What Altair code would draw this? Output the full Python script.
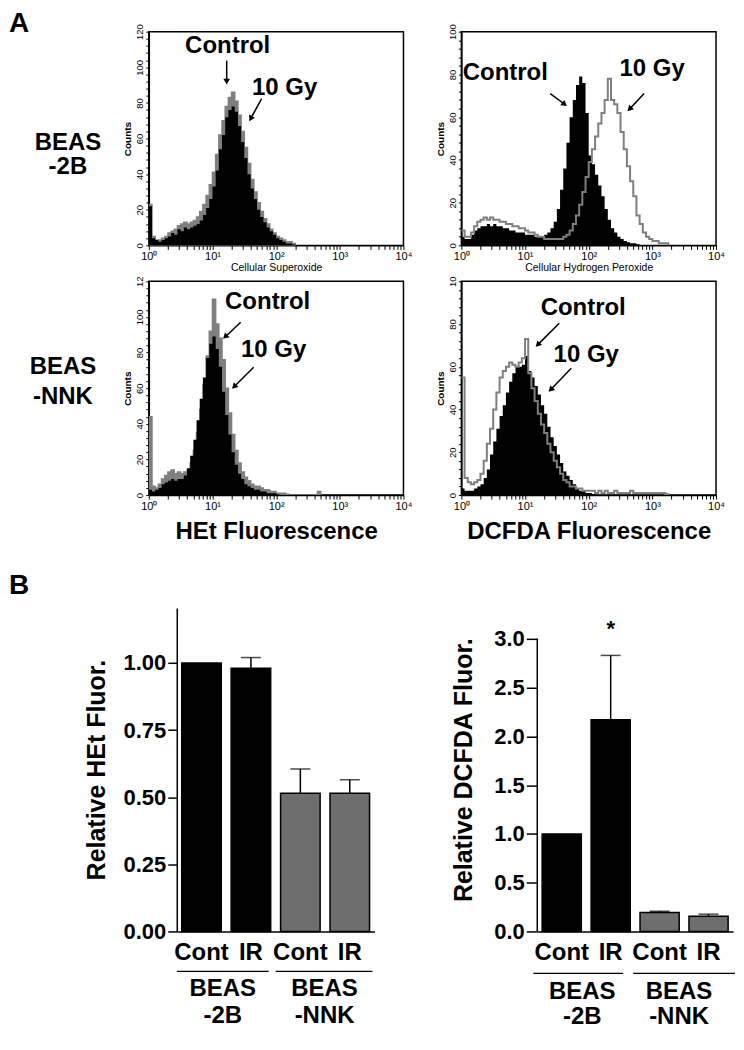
import math
import altair as alt
import pandas as pd

FONT = "Liberation Sans"
BIN = 0.05  # channel width, in decades, starting at 10^0

# ---------------- Panel A: flow-cytometry histograms (counts per channel) ----------------
sup_2b_control = [22, 4, 3, 2, 3, 4, 5, 7, 6, 9, 8, 10, 9, 10, 11, 12, 14, 17, 21, 26,
                  33, 42, 54, 62, 72, 76, 78, 75, 67, 58, 49, 40, 32, 26, 20, 16, 13, 10, 8, 6,
                  4, 3, 2, 1, 1, 0.5, 0]
sup_2b_10gy = [23, 5, 3, 3, 4, 5, 7, 8, 9, 11, 12, 13, 12, 13, 14, 16, 19, 23, 28, 34,
               41, 51, 62, 70, 78, 83, 86, 81, 73, 64, 55, 46, 37, 30, 24, 19, 15, 12, 9, 7,
               5, 4, 3, 2, 2, 1, 0]
h2o2_2b_control = [4, 3, 3, 5, 7, 8, 9, 9, 10, 9, 10, 9, 9, 8, 8, 7, 7, 6, 6, 6,
                   5, 5, 5, 4, 4, 4, 5, 6, 8, 11, 17, 26, 36, 48, 60, 68, 75, 79, 76, 62,
                   42, 38, 33, 28, 23, 17, 12, 8, 6, 4, 3, 2, 1.5, 1, 1, 0.5, 0]
h2o2_2b_10gy = [7, 4, 4, 6, 9, 11, 12, 13, 12, 13, 12, 12, 11, 11, 10, 10, 9, 9, 8, 8,
                7, 6, 6, 5, 4, 4, 3, 3, 3, 3, 3, 3, 4, 5, 7, 10, 14, 19, 25, 32,
                39, 45, 51, 57, 62, 68, 78, 68, 66, 62, 53, 45, 37, 30, 23, 14, 10, 6, 4, 3,
                2, 2, 1, 1, 1, 0]
het_nnk_control = [3, 2, 3, 4, 6, 7, 8, 9, 8, 9, 9, 11, 15, 22, 31, 42, 54, 66, 77, 85,
                   89, 82, 72, 58, 45, 34, 24, 17, 12, 9, 6, 5, 4, 3, 3, 2, 2, 1, 1, 1,
                   0.5, 0]
het_nnk_10gy = [44, 5, 4, 6, 9, 11, 13, 14, 12, 13, 12, 13, 14, 18, 25, 35, 48, 62, 78, 92,
                110, 96, 88, 76, 60, 46, 34, 25, 18, 13, 10, 8, 6, 5, 5, 4, 3, 3, 2, 2,
                1, 1, 1, 0.5, 0, 0, 0, 0, 0, 0, 0, 0, 0, 2, 0]
dcf_nnk_control = [3, 2, 2, 2, 3, 4, 5, 8, 12, 19, 25, 31, 37, 42, 48, 53, 57, 60, 60, 61,
                   65, 58, 55, 51, 47, 42, 38, 32, 27, 23, 19, 15, 11, 9, 7, 5, 3, 2, 2, 1,
                   1, 0.5, 0]
dcf_nnk_10gy = [55, 8, 6, 5, 6, 7, 10, 16, 24, 31, 40, 48, 55, 58, 60, 62, 61, 60, 62, 64,
                73, 57, 50, 44, 38, 33, 29, 24, 20, 16, 13, 10, 7, 6, 4, 4, 3, 3, 2, 2,
                2, 2, 1, 2, 1, 2, 1, 1, 2, 1, 1, 1, 1, 2, 1, 1, 1, 1, 1, 1,
                1, 1, 1, 1, 0.5, 0]

x_decades = [0, 1, 2, 3, 4]
x_decade_labels = ["10⁰", "10¹", "10²", "10³", "10⁴"]

# ---------------- Panel B: bar charts ----------------
bar_cats = ["BEAS-2B Cont", "BEAS-2B IR", "BEAS-NNK Cont", "BEAS-NNK IR"]
bar_cell = ["BEAS-2B", "BEAS-2B", "BEAS-NNK", "BEAS-NNK"]
het_mean = [1.00, 0.98, 0.515, 0.515]
het_err = [0.0, 0.04, 0.09, 0.05]
dcf_mean = [1.00, 2.17, 0.195, 0.155]
dcf_err = [0.0, 0.66, 0.012, 0.022]
dcf_sig = ["", "*", "", ""]
het_sig = ["", "", "", ""]

# ---------------------------------------------------------------------------
dummy = pd.DataFrame({"v": [0]})
GRAY = "#7f7f7f"
HIST_W, HIST_H = 255, 214


def hist_frame(control, irr):
    n = max(len(control), len(irr))
    rows = []
    for i in range(n):
        L = round(i * BIN, 2)
        rows.append({"L": L, "series": "Control", "count": control[i] if i < len(control) else 0})
        rows.append({"L": L, "series": "10 Gy", "count": irr[i] if i < len(irr) else 0})
    return pd.DataFrame(rows)


def label(text, x, y, size=24, weight="bold", align="center", baseline="middle"):
    return alt.Chart(dummy).mark_text(
        text=text, fontSize=size, fontWeight=weight, align=align, baseline=baseline, color="black"
    ).encode(x=alt.value(x), y=alt.value(y))


def arrow(x1, y1, x2, y2):
    dx, dy = x2 - x1, y2 - y1
    d = math.hypot(dx, dy)
    ux, uy = dx / d, dy / d
    hx, hy = x2 - 3 * ux, y2 - 3 * uy
    ang = round(math.degrees(math.atan2(dx, -dy)) % 360, 1)
    shaft = alt.Chart(dummy).mark_rule(color="black", strokeWidth=1.5).encode(
        x=alt.value(x1), y=alt.value(y1), x2=alt.value(hx), y2=alt.value(hy))
    head = alt.Chart(dummy).mark_point(
        shape="triangle", filled=True, size=45, color="black", opacity=1, angle=ang, strokeWidth=0
    ).encode(x=alt.value(hx), y=alt.value(hy))
    return [shaft, head]


x_ticks = sorted(set([round(math.log10(k * 10 ** d), 4) for d in range(4) for k in range(1, 10)] + [4]))
x_label_expr = " : ".join(
    f"datum.value == {v} ? '{t}'" for v, t in zip(x_decades, x_decade_labels)) + " : ''"


def histogram(control, irr, top, top_label, x_title, x_title_size, x_title_weight, x_title_pad,
              filled_irr, extras):
    df = hist_frame(control, irr)
    x = alt.X("L:Q", scale=alt.Scale(domain=[0, 4], nice=False, zero=False),
              axis=alt.Axis(values=x_ticks, labelExpr=x_label_expr, labelFontSize=11, labelPadding=1,
                            tickSize=4, tickColor="black", domainColor="black", domainWidth=1.5,
                            labelColor="black", grid=False, labelOverlap=False, labelFlush=False,
                            title=x_title, titleFontSize=x_title_size, titleFontWeight=x_title_weight,
                            titlePadding=x_title_pad, titleColor="black"))
    y = alt.Y("count:Q", scale=alt.Scale(domain=[0, top], nice=False),
              axis=alt.Axis(values=list(range(0, top + 1, 4)),
                            labelExpr=f"datum.value % 20 == 0 ? (datum.value == {top} ? '{top_label}' : datum.label) : ''",
                            labelAngle=270, labelAlign="center", labelBaseline="bottom",
                            labelFontSize=9.5, labelPadding=1, tickSize=3, tickColor="black",
                            domainColor="black", domainWidth=1.5, labelColor="black", grid=False,
                            labelOverlap=False, labelFlush=False,
                            title="Counts", titleFontSize=10, titleFontWeight="bold", titlePadding=2,
                            titleColor="black"))
    ctrl = alt.Chart(df).transform_filter("datum.series == 'Control'").mark_area(
        color="black", interpolate="step-after", clip=True).encode(x=x, y=y)
    irr_src = alt.Chart(df).transform_filter("datum.series == '10 Gy'")
    if filled_irr:
        irr_fill = irr_src.mark_area(color=GRAY, interpolate="step-after", clip=True,
                                     stroke=GRAY, strokeWidth=1.5).encode(x=x, y=y)
        layers = [irr_fill, ctrl]
    else:
        irr_line = irr_src.mark_line(color=GRAY, strokeWidth=2, interpolate="step-after",
                                     clip=True).encode(x=x, y=y)
        layers = [ctrl, irr_line]
    return alt.layer(*layers, *extras).properties(
        width=HIST_W, height=HIST_H, view=alt.ViewBackground(stroke="black", strokeWidth=1.5))


TL = histogram(sup_2b_control, sup_2b_10gy, 120, "120", "Cellular Superoxide", 10.5, "normal", 1, True,
               [label("A", -140, -22, size=28, align="left", baseline="top"),
                label("BEAS", -81, 111), label("-2B", -81, 136),
                label("Control", 79, 14), *arrow(78, 29, 78, 52),
                label("10 Gy", 136, 56), *arrow(113, 67, 101, 89)])
TR = histogram(h2o2_2b_control, h2o2_2b_10gy, 100, "100", "Cellular Hydrogen Peroxide", 10.5, "normal", 1,
               False,
               [label("Control", 44, 41), *arrow(89, 62, 105, 74),
                label("10 Gy", 191, 37), *arrow(183, 62, 167, 79)])
BL = histogram(het_nnk_control, het_nnk_10gy, 120, "12", "HEt Fluorescence", 24, "bold", 9, True,
               [label("BEAS", -86, 86), label("-NNK", -86, 116),
                label("Control", 119, 21), *arrow(92, 41, 75, 57),
                label("10 Gy", 125, 69), *arrow(105, 86, 84, 107)])
BR = histogram(dcf_nnk_control, dcf_nnk_10gy, 100, "10", "DCFDA Fluorescence", 24, "bold", 9, False,
               [label("Control", 122, 27), *arrow(98, 42, 75, 65),
                label("10 Gy", 125, 74), *arrow(110, 87, 88, 110)])


def bar_panel(mean, err, sig, dom_max, y_vals, fmt, y_title, lead, bar_width, tick_size, title_pad,
              draw_domain, extras):
    df = pd.DataFrame({"cat": bar_cats, "cell": bar_cell, "mean": mean, "err": err,
                       "hi": [m + e for m, e in zip(mean, err)], "sig": sig})
    x = alt.X("cat:N", sort=bar_cats,
              scale=alt.Scale(range=[lead, lead + bar_width], paddingInner=0.2, paddingOuter=0.1),
              axis=alt.Axis(labelExpr="split(datum.label, ' ')[1]", labelAngle=0, labelFontSize=24,
                            labelFontWeight="bold", labelPadding=9, ticks=False, tickSize=0,
                            domainWidth=1.5, domainColor="black", labelColor="black", title=None))
    yscale = alt.Scale(domain=[0, dom_max], nice=False)
    yaxis = alt.Axis(values=y_vals, format=fmt, labelFontSize=22, labelFontWeight="bold",
                     labelColor="black", labelPadding=2, tickSize=tick_size, tickWidth=1.5,
                     tickColor="black", domain=draw_domain, domainWidth=1.5, domainColor="black",
                     grid=False, title=y_title, titleFontSize=25, titleFontWeight="bold",
                     titleColor="black", titlePadding=title_pad, offset=-lead)
    y = alt.Y("mean:Q", scale=yscale, axis=yaxis)
    yhi = alt.Y("hi:Q", scale=yscale, axis=yaxis)
    bars = alt.Chart(df).mark_bar(stroke="black", strokeWidth=1.5).encode(
        x=x, y=y,
        color=alt.Color("cell:N", scale=alt.Scale(domain=["BEAS-2B", "BEAS-NNK"],
                                                  range=["#000000", "#6e6e6e"]), legend=None))
    rules = alt.Chart(df).transform_filter("datum.err > 0").mark_rule(
        color="black", strokeWidth=1.5).encode(x=x, y=y, y2="hi:Q")
    caps = alt.Chart(df).transform_filter("datum.err > 0").mark_tick(
        color="black", thickness=1.5, size=20).encode(x=x, y=yhi)
    stars = alt.Chart(df).transform_filter("datum.sig != ''").mark_text(
        fontSize=22, fontWeight="bold", dy=-26, baseline="middle", color="black").encode(
        x=x, y=yhi, text="sig:N")
    layers = [bars, rules, caps, stars]
    if not draw_domain:
        top_val = y_vals[-1]
        axis_df = pd.DataFrame({"mean": [0.0], "hi": [top_val]})
        layers.append(alt.Chart(axis_df).mark_rule(color="black", strokeWidth=1.5).encode(
            x=alt.value(lead), y=y, y2="hi:Q"))
    return alt.layer(*layers, *extras).properties(width=lead + bar_width, height=324)


def group_marks(h, lead, line_y, spans, centers, y1, y2):
    out = []
    for (a, b) in spans:
        out.append(alt.Chart(dummy).mark_rule(color="black", strokeWidth=1.2).encode(
            x=alt.value(lead + a), x2=alt.value(lead + b), y=alt.value(h + line_y)))
    for c, (l1, l2) in zip(centers, [("BEAS", "-2B"), ("BEAS", "-NNK")]):
        out.append(label(l1, lead + c, h + y1, size=24))
        out.append(label(l2, lead + c, h + y2, size=24))
    return out


LEAD_L = 28
barL = bar_panel(het_mean, het_err, het_sig, 1.205, [0, 0.25, 0.5, 0.75, 1.0], ".2f",
                 "Relative HEt Fluor.", LEAD_L, 198, 9, 14, True,
                 [label("B", -140, -36, size=28, align="left", baseline="top")]
                 + group_marks(324, LEAD_L, 40, [(0, 92), (99, 196)], [46, 148], 58, 85))
barR = bar_panel(dcf_mean, dcf_err, dcf_sig, 3.0 * 324 / 293, [0, 0.5, 1.0, 1.5, 2.0, 2.5, 3.0], ".1f",
                 "Relative DCFDA Fluor.", 0, 196, 11, 17, False,
                 group_marks(324, 0, 42, [(-4, 86), (96, 198)], [45, 142], 61, 86))

top = alt.concat(TL, TR, BL, BR, columns=2, spacing={"row": 0, "column": 21})
bottom = alt.hconcat(barL, barR, spacing=77)

chart = alt.concat(top, bottom, columns=1, align="none", spacing=27).properties(
    padding={"left": 0, "top": 0, "right": 0, "bottom": 0}
).configure(font=FONT).configure_view(strokeWidth=0)

chart.save("out.html", embed_options={"renderer": "svg", "actions": False})
